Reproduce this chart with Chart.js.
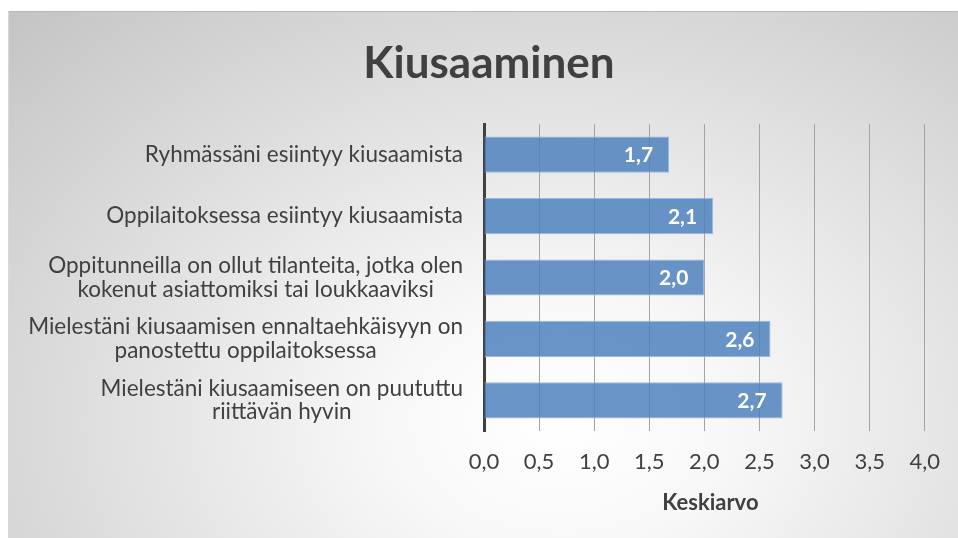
<!DOCTYPE html>
<html>
<head>
<meta charset="utf-8">
<script src="https://cdn.jsdelivr.net/npm/chart.js@4"></script>
<style>
  body { margin: 0; background: #fff; width: 958px; height: 538px; overflow: hidden; }
  #box {
    position: absolute; left: 8px; top: 11px; width: 950px; height: 527px;
    border-top: 1px solid #b8b8b8; border-left: 1px solid #d8d8d8; box-sizing: border-box;
    background: radial-gradient(farthest-corner at 58% 78%, #ffffff 0%, #f8f8f8 22%, #c4c4c4 100%);
  }
</style>
</head>
<body>
<div id="box"><canvas id="chart"></canvas></div>
<script>
const FONT = 'Lato, "Open Sans", sans-serif';

// data
const categories = [
    ['Ryhmässäni esiintyy kiusaamista'],
    ['Oppilaitoksessa esiintyy kiusaamista'],
    ['Oppitunneilla on ollut tilanteita, jotka olen', 'kokenut asiattomiksi tai loukkaaviksi'],
    ['Mielestäni kiusaamisen ennaltaehkäisyyn on', 'panostettu oppilaitoksessa'],
    ['Mielestäni kiusaamiseen on puututtu', 'riittävän hyvin']
];
const averages = [1.68, 2.08, 2.0, 2.6, 2.71];
const axisMin = 0;
const axisMax = 4.0;
const axisStep = 0.5;
const chartTitle = 'Kiusaaminen';
const axisTitle = 'Keskiarvo';

const fmt = v => v.toFixed(1).replace('.', ',');

// title, axis title and category labels (block right aligned, lines centered)
const textLayer = {
    id: 'textLayer',
    afterDraw(chart) {
        const ctx = chart.ctx;
        const area = chart.chartArea;
        const y = chart.scales.y;
        ctx.save();
        ctx.fillStyle = '#404040';
        ctx.textBaseline = 'middle';
        ctx.textAlign = 'center';

        ctx.font = 'bold 44px ' + FONT;
        ctx.fillText(chartTitle, 480, 52);

        ctx.font = 'bold 22px ' + FONT;
        ctx.fillText(axisTitle, (area.left + area.right) / 2 + 6, 491);

        const right = area.left - 21;
        const lh = 23.5;
        ctx.font = '22.5px ' + FONT;
        categories.forEach((lines, i) => {
            const cy = y.getPixelForTick(i);
            const w = Math.max(...lines.map(l => ctx.measureText(l).width));
            const cx = right - w / 2;
            const top = cy - (lines.length - 1) * lh / 2;
            lines.forEach((l, j) => ctx.fillText(l, cx, top + j * lh));
        });
        ctx.restore();
    }
};

// value labels inside bar ends
const valueLabels = {
    id: 'valueLabels',
    afterDatasetsDraw(chart) {
        const ctx = chart.ctx;
        const meta = chart.getDatasetMeta(0);
        ctx.save();
        ctx.font = 'bold 21px ' + FONT;
        ctx.fillStyle = '#ffffff';
        ctx.textAlign = 'right';
        ctx.textBaseline = 'middle';
        meta.data.forEach((bar, i) => {
            ctx.fillText(fmt(averages[i]), bar.x - 16, bar.y + 1);
        });
        ctx.restore();
    }
};

new Chart(document.getElementById('chart'), {
    type: 'bar',
    data: {
        labels: categories,
        datasets: [{
            data: averages,
            backgroundColor: 'rgba(79, 129, 189, 0.85)',
            borderColor: 'rgba(150, 182, 222, 0.95)',
            borderWidth: 1,
            borderSkipped: 'left',
            categoryPercentage: 1,
            barPercentage: 0.59
        }]
    },
    options: {
        indexAxis: 'y',
        responsive: true,
        maintainAspectRatio: false,
        animation: false,
        layout: { padding: { left: 0, right: 33, top: 112, bottom: 0 } },
        plugins: {
            legend: { display: false },
            tooltip: { enabled: false },
            title: { display: false }
        },
        scales: {
            x: {
                min: axisMin,
                max: axisMax,
                ticks: {
                    stepSize: axisStep,
                    color: '#404040',
                    font: { family: FONT, size: 22 },
                    padding: 18,
                    callback: v => fmt(v)
                },
                grid: { color: '#a4a4a4', lineWidth: 1, drawTicks: false },
                border: { display: false },
                afterFit(scale) { scale.height = 107; }
            },
            y: {
                ticks: { display: false },
                grid: { display: false },
                border: { display: true, color: '#404040', width: 3 },
                afterFit(scale) { scale.width = 475; }
            }
        }
    },
    plugins: [textLayer, valueLabels]
});
</script>
</body>
</html>
